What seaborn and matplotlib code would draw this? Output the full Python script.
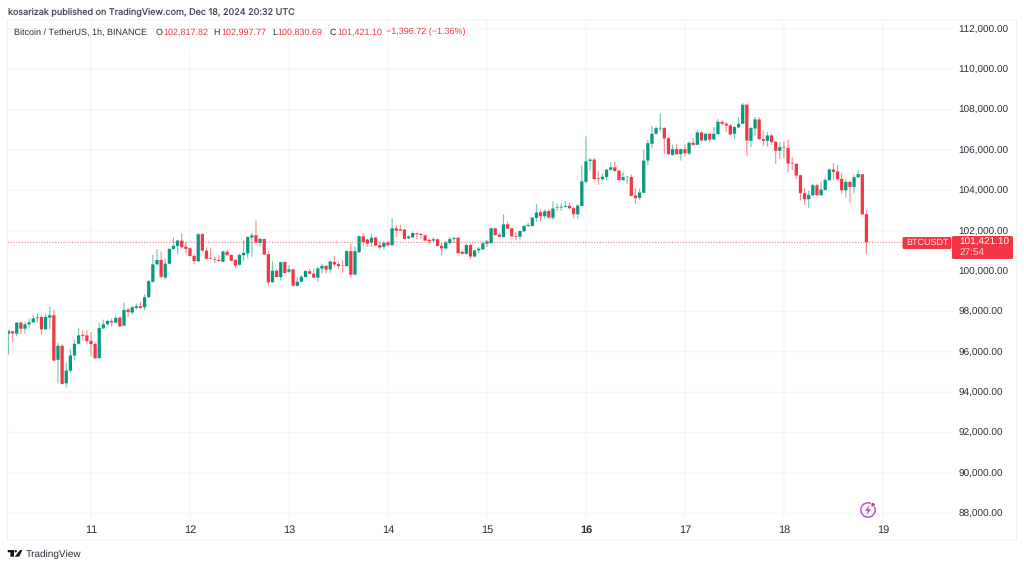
import pandas as pd
import matplotlib
matplotlib.use("Agg")
import matplotlib.pyplot as plt
import matplotlib.patches as mpatches
import seaborn as sns

FONT = ["Liberation Sans", "DejaVu Sans"]
GREEN = "#089981"
RED = "#F23645"
GRID = "#F3F4F5"
TEXT = "#2A2E39"

opens = [
    96896, 97012, 96896, 97444, 97145, 97361, 97460, 97693, 97726, 97112,
    97693, 97809, 95601, 96298, 94439, 95070, 95817, 96398, 96846, 96813,
    96547, 96381, 95684, 97161, 97361, 97527, 97444, 97693, 97294, 98091,
    97942, 98174, 98257, 98207, 98705, 99469, 100332, 100548, 99685, 100365,
    101096, 101245, 101511, 101212, 101129, 100747, 100481, 101826, 101013, 100631,
    100598, 100548, 100459, 100951, 100804, 100558, 100312, 100787, 100869, 101656,
    101771, 101394, 101591, 100836, 99442, 100016, 99705, 100443, 99967, 100082,
    99262, 99475, 99705, 99984, 99869, 99672, 100115, 100262, 100082, 100443,
    100344, 100295, 100246, 100984, 99820, 100935, 101722, 101558, 101410, 101656,
    101279, 101197, 101410, 101279, 102116, 102066, 102050, 101624, 101673, 101870,
    101837, 101771, 101542, 101509, 101574, 101253, 101120, 101386, 101585, 101651,
    100954, 100855, 101286, 100722, 101021, 101070, 101353, 101386, 102116, 101801,
    101685, 102315, 102116, 101734, 101701, 101967, 102232, 102232, 102631, 102913,
    102714, 102979, 102631, 103145, 103145, 103179, 103228, 103112, 102813, 103228,
    104424, 105453, 105519, 104590, 104556, 104656, 105021, 105137, 104971, 104507,
    104656, 104656, 103743, 103627, 103876, 105476, 106303, 106800, 107064, 107081,
    106584, 105757, 106038, 105790, 106038, 105823, 106353, 106253, 106866, 106469,
    106800, 106518, 106783, 107395, 107296, 107213, 106800, 107114, 107296, 108239,
    106452, 107064, 107511, 106535, 106452, 106717, 106402, 105955, 106154, 106088,
    105360, 105310, 104747, 103854, 103556, 103754, 104251, 103754, 104019, 104499,
    105029, 104929, 104565, 104003, 104416, 104168, 104648, 104797, 102817.82,
]
highs = [
    97095, 97029, 97477, 97477, 97477, 97643, 97825, 97892, 97809, 97892,
    98224, 98091, 96431, 96365, 95468, 96132, 96597, 97195, 97062, 97062,
    96979, 96497, 97427, 97593, 97593, 97659, 97759, 97759, 98440, 98191,
    98290, 98390, 98473, 98855, 99552, 100797, 101079, 100963, 100631, 101129,
    101677, 101544, 101876, 101461, 101179, 100847, 101876, 101876, 101179, 101129,
    100714, 100797, 101033, 101066, 100804, 100574, 100869, 101525, 101722, 101886,
    102509, 101656, 101607, 101000, 100476, 100082, 100459, 100476, 100295, 100115,
    99688, 99787, 100049, 100115, 100131, 100213, 100344, 100295, 100508, 100738,
    100459, 100541, 101033, 101361, 101230, 101771, 101886, 101607, 101853, 101689,
    101443, 101476, 101492, 102624, 102263, 102296, 102083, 101771, 101968, 101902,
    101886, 101804, 101607, 101656, 101607, 101386, 101485, 101685, 101685, 101685,
    101021, 101353, 101353, 101054, 101220, 101436, 101552, 102149, 102149, 101900,
    102813, 102465, 102133, 101917, 102017, 102266, 102398, 102681, 103311, 103013,
    103046, 103046, 103461, 103345, 103345, 103461, 103394, 103179, 103311, 105254,
    106665, 105586, 105586, 104971, 104839, 105054, 105370, 105403, 105005, 104922,
    104706, 104789, 104108, 104092, 106001, 106502, 107197, 107164, 107793, 107130,
    106634, 106253, 106303, 106071, 106253, 106419, 106584, 106998, 106915, 106833,
    106833, 107130, 107528, 107462, 107395, 107279, 107197, 107627, 108322, 108289,
    107130, 107627, 107627, 106965, 106882, 106800, 106435, 106369, 106419, 106502,
    105641, 105343, 104780, 104102, 103986, 104317, 104317, 104433, 104615, 105078,
    105343, 105260, 104847, 104549, 104483, 104764, 104996, 104813, 102997.77,
]
lows = [
    95867, 96481, 96763, 96863, 96896, 97195, 97427, 97460, 96829, 97112,
    97112, 95535, 94439, 94373, 94240, 94970, 95568, 96365, 96564, 96398,
    95767, 95634, 95667, 97128, 97294, 97261, 97394, 97228, 97261, 97726,
    97842, 98091, 98141, 98058, 98672, 99419, 100282, 99651, 99585, 100332,
    101046, 100847, 101145, 100880, 100714, 100332, 100465, 100963, 100581, 100581,
    100415, 100465, 100443, 100771, 100476, 100148, 100279, 100508, 100623, 100705,
    101394, 101230, 100787, 99295, 99426, 99688, 99524, 99885, 99918, 99213,
    99229, 99459, 99688, 99852, 99656, 99475, 99885, 99885, 99918, 100180,
    100115, 99918, 100213, 99688, 99787, 100902, 101263, 101197, 101197, 101230,
    101066, 101066, 101230, 101263, 101689, 101984, 101558, 101591, 101656, 101574,
    101574, 101492, 101328, 101443, 101230, 100788, 101087, 101319, 101386, 100855,
    100821, 100821, 100589, 100689, 100888, 101037, 101187, 101353, 101751, 101685,
    101668, 102083, 101701, 101519, 101552, 101934, 102183, 102216, 102432, 102448,
    102598, 102631, 102548, 102963, 102979, 103145, 103046, 102614, 102581, 103212,
    104341, 104971, 104523, 104258, 104473, 104473, 104971, 104922, 104473, 104457,
    104307, 103677, 103311, 103511, 103859, 105260, 106104, 106750, 106915, 105807,
    105757, 105707, 105757, 105476, 105674, 105740, 106204, 106237, 106419, 106435,
    106369, 106502, 106766, 107197, 106866, 106717, 106535, 107097, 107279, 105724,
    106138, 106700, 106502, 106204, 106171, 106253, 105310, 105542, 105591, 104880,
    105012, 104565, 103506, 103274, 103142, 103721, 103721, 103721, 103986, 104483,
    104516, 104516, 103821, 103638, 103390, 103854, 104615, 102778, 100830.69,
]
closes = [
    97029, 96912, 97444, 97145, 97361, 97460, 97659, 97726, 97112, 97726,
    97809, 95568, 96298, 94406, 95070, 95817, 96398, 96813, 96796, 96531,
    96381, 95684, 97178, 97361, 97527, 97460, 97676, 97261, 98074, 97975,
    98207, 98257, 98174, 98705, 99502, 100332, 100548, 99718, 100365, 101096,
    101245, 101511, 101179, 101096, 100747, 100498, 101826, 101013, 100614, 100598,
    100564, 100498, 100968, 100787, 100508, 100279, 100804, 100902, 101689, 101771,
    101410, 101591, 100820, 99442, 100016, 99705, 100443, 99902, 100082, 99278,
    99475, 99721, 100000, 99869, 99672, 100131, 100262, 100066, 100476, 100328,
    100246, 100279, 100984, 99820, 100984, 101722, 101443, 101361, 101656, 101263,
    101164, 101394, 101279, 102116, 102001, 102001, 101591, 101706, 101886, 101820,
    101788, 101509, 101476, 101574, 101246, 101120, 101402, 101585, 101635, 100888,
    100855, 101286, 100722, 101021, 101104, 101369, 101469, 102116, 101784, 101701,
    102315, 102100, 101718, 101701, 101983, 102232, 102282, 102647, 102896, 102714,
    102963, 102647, 103096, 103179, 103179, 103228, 103112, 102813, 103245, 104440,
    105436, 105519, 104556, 104556, 104673, 105021, 105137, 104955, 104507, 104656,
    104673, 103726, 103610, 103892, 105469, 106336, 106800, 107081, 107097, 106568,
    105790, 106038, 105790, 106038, 105840, 106353, 106253, 106866, 106469, 106800,
    106518, 106800, 107395, 107296, 107213, 106766, 107130, 107296, 108239, 106469,
    107081, 107511, 106535, 106452, 106717, 106386, 105955, 106138, 106121, 105327,
    105327, 104731, 103854, 103556, 103771, 104251, 103754, 104036, 104516, 105029,
    104913, 104549, 104003, 104416, 104168, 104648, 104797, 102811, 101421.10,
]

day_labels = ["11", "12", "13", "14", "15", "16", "17", "18", "19"]
price_ticks = list(range(88000, 112001, 2000))
last_price = closes[-1]
first_midnight = 20  # the 11th starts 20 hourly bars in


def candle_frames():
    rows_wick = []
    rows_body = []
    for i in range(len(opens)):
        side = "up" if closes[i] >= opens[i] else "down"
        rows_wick.append({"hour": i, "price": highs[i], "candle": i, "side": side})
        rows_wick.append({"hour": i, "price": lows[i], "candle": i, "side": side})
        rows_body.append({"hour": i, "price": opens[i], "candle": i, "side": side})
        rows_body.append({"hour": i, "price": closes[i], "candle": i, "side": side})
    return pd.DataFrame(rows_wick), pd.DataFrame(rows_body)


sns.set_theme(style="whitegrid", rc={
    "grid.color": GRID,
    "grid.linewidth": 0.8,
    "lines.solid_capstyle": "butt",
    "path.snap": False,
    "text.hinting": "no_hinting",
    "text.hinting_factor": 1,
})
plt.rcParams["font.family"] = FONT

W, H = 1024, 567
fig = plt.figure(figsize=(W / 100, H / 100), dpi=100)
fig.patch.set_facecolor("white")

# price pane, in pixels of the picture
left, right, top, bottom = 8, 951, 20, 518
ax = fig.add_axes([left / W, 1 - bottom / H, (right - left) / W, (bottom - top) / H])

wicks, bodies = candle_frames()
palette = {"up": GREEN, "down": RED}
sns.lineplot(data=wicks, x="hour", y="price", hue="side", units="candle", estimator=None,
             palette=palette, linewidth=0.85, alpha=0.55, sort=False, legend=False, ax=ax)
sns.lineplot(data=bodies, x="hour", y="price", hue="side", units="candle", estimator=None,
             palette=palette, linewidth=2.35, sort=False, legend=False, ax=ax)

ax.axhline(last_price, color=RED, linewidth=0.8, linestyle=(0, (1, 1.5)), alpha=0.7)

ax.set_xlim(-0.12, 228.5)
ax.set_ylim(87767, 112436)
ax.set_xlabel("")
ax.set_ylabel("")
for s in ax.spines.values():
    s.set_visible(False)

ax.set_xticks([first_midnight + 24 * k for k in range(len(day_labels))])
ax.set_xticklabels(day_labels)
ax.yaxis.tick_right()
ax.set_yticks(price_ticks)
ax.set_yticklabels(["{:,.2f}".format(p) for p in price_ticks])
ax.tick_params(axis="x", length=0, pad=5, labelsize=7.8, labelcolor=TEXT)
ax.tick_params(axis="y", length=0, pad=5.4, labelsize=7.5, labelcolor=TEXT)
for lab in ax.get_xticklabels():
    if lab.get_text() == "16":
        lab.set_fontweight("bold")

# overlay for the furniture around the chart, pixel coordinates
over = fig.add_axes([0, 0, 1, 1], facecolor="none")
over.set_xlim(0, W)
over.set_ylim(H, 0)
over.axis("off")


def label(x, y, s, color=TEXT, size=7, **kw):
    over.text(x, y, s, color=color, fontsize=size, va="center", ha=kw.pop("ha", "left"), **kw)


over.add_patch(mpatches.Rectangle((7.5, 20), 1009, 520, fill=False, edgecolor="#F0F1F3", linewidth=0.8))

label(8, 12, "kosarizak published on TradingView.com, Dec 18, 2024 20:32 UTC", color="#434957", size=6.5,
      family=["Inter", "DejaVu Sans"])

label(14, 32.3, "Bitcoin / TetherUS, 1h, BINANCE", size=6.7)
for x, s, c in [(156, "O", TEXT), (163, "102,817.82", RED), (213, "H", TEXT), (221, "102,997.77", RED),
                (272, "L", TEXT), (277, "100,830.69", RED), (330, "C", TEXT), (337, "101,421.10", RED),
                (386, "\u22121,396.72 (\u22121.36%)", RED)]:
    label(x, 32.3, s, color=c, size=6.7)

# last price tags
over.add_patch(mpatches.FancyBboxPatch((902.5, 237), 49, 12, boxstyle="round,pad=0,rounding_size=1.5",
                                       facecolor=RED, edgecolor="none"))
over.add_patch(mpatches.FancyBboxPatch((952, 236), 61, 23, boxstyle="round,pad=0,rounding_size=1.5",
                                       facecolor=RED, edgecolor="none"))
label(906.5, 243, "BTCUSDT", color="#FFE3E6", size=6.2)
label(959, 242.5, "101,421.10", color="white", size=7.5)
label(959, 253, "27:54", color="#FFC9CE", size=7.5)

# bolt badge
PURPLE = "#B45ACB"
over.add_patch(mpatches.Circle((868, 510), 7.2, fill=False, edgecolor=PURPLE, linewidth=1.1))
over.add_patch(mpatches.Polygon([(869.5, 504.5), (865, 511), (867.7, 511), (866.5, 515.5), (871, 509), (868.3, 509)],
                                facecolor=PURPLE, edgecolor="none"))
over.add_patch(mpatches.Circle((873, 504.7), 2.1, facecolor=RED, edgecolor="white", linewidth=0.5))

# logo
LOGO = "#131722"
over.add_patch(mpatches.Polygon([(7.7, 550), (14, 550), (14, 556.7), (10.4, 556.7), (10.4, 552.3), (7.7, 552.3)],
                                facecolor=LOGO, edgecolor="none"))
over.add_patch(mpatches.Circle((15.7, 551.3), 1.2, facecolor=LOGO, edgecolor="none"))
over.add_patch(mpatches.Polygon([(20, 550), (22.4, 550), (19.2, 556.7), (14.7, 556.7)],
                                facecolor=LOGO, edgecolor="none"))
label(25.7, 554, "TradingView", color="#2A2E39", size=7.4)

fig.savefig("out.png", dpi=100)
